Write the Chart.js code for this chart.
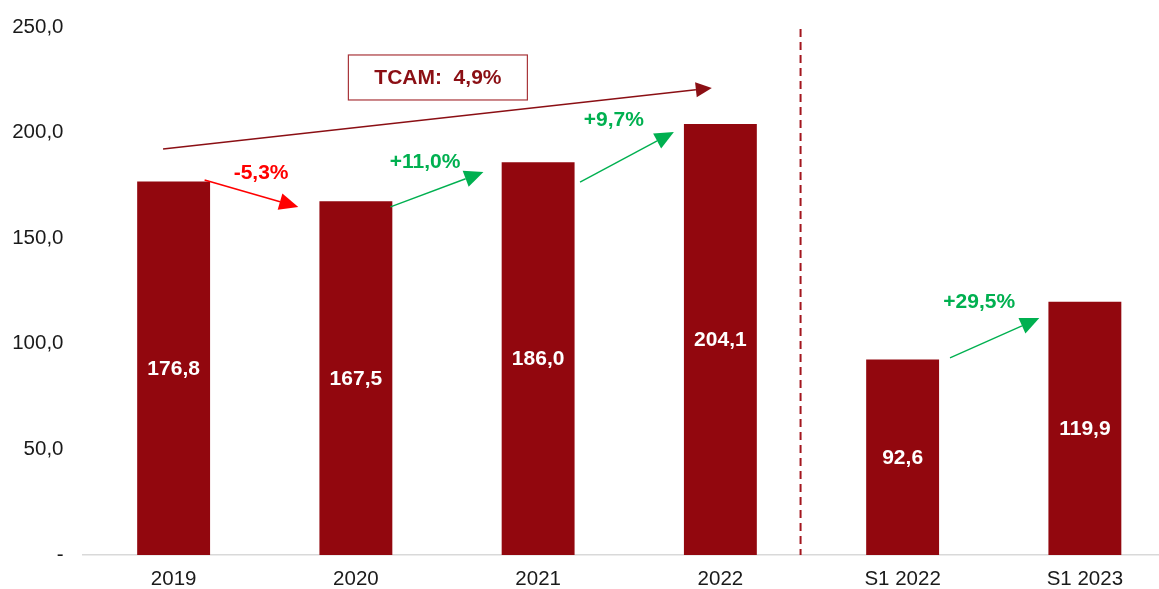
<!DOCTYPE html>
<html>
<head>
<meta charset="utf-8">
<style>
  html, body { margin: 0; padding: 0; background: #fff; overflow: hidden; }
  #wrap { width: 1176px; height: 589px; }
</style>
</head>
<body>
<div id="wrap">
	<canvas id="myChart" width="1176" height="589"></canvas>
</div>

<script src="https://cdn.jsdelivr.net/npm/chart.js"></script>
<script>

	const labels = ['2019', '2020', '2021', '2022', 'S1 2022', 'S1 2023']
	const values = [176.8, 167.5, 186.0, 204.1, 92.6, 119.9]

	// growth arrows, in category index / value units: [x1, y1, x2, y2]
	const arrowLabels = ['-5,3%', '+11,0%', '+9,7%', '+29,5%']
	const arrowColors = ['#ff0000', '#00b050', '#00b050', '#00b050']
	const arrowFrom = [[0.17, 177.6], [1.19, 164.8], [2.23, 176.6], [4.26, 93.3]]
	const arrowTo = [[0.684, 164.8], [1.70, 181.3], [2.745, 200.3], [4.75, 112.2]]
	const arrowTextAt = [[0.48, 180.9], [1.38, 186.1], [2.415, 206.0], [4.42, 119.8]]

	const cagrLabel = 'TCAM:  4,9%'
	const cagrFrom = [-0.058, 192.2]
	const cagrTo = [2.953, 221.1]
	const cagrBoxAt = [1.45, 226.1]
	const separatorAt = 3.44

	const fmt = v => v.toFixed(1).replace('.', ',')
	const FONT = "'Liberation Sans', Arial, sans-serif"

	function arrow(ctx, x1, y1, x2, y2, color, lw, head, hw) {
		const a = Math.atan2(y2 - y1, x2 - x1)
		const bx = x2 - head * Math.cos(a), by = y2 - head * Math.sin(a)
		ctx.save()
		ctx.strokeStyle = color
		ctx.fillStyle = color
		ctx.lineWidth = lw
		ctx.beginPath()
		ctx.moveTo(x1, y1)
		ctx.lineTo(bx, by)
		ctx.stroke()
		ctx.beginPath()
		ctx.moveTo(x2, y2)
		ctx.lineTo(bx + hw * Math.sin(a), by - hw * Math.cos(a))
		ctx.lineTo(bx - hw * Math.sin(a), by + hw * Math.cos(a))
		ctx.closePath()
		ctx.fill()
		ctx.restore()
	}

	const annotations = {
		id: 'annotations',
		afterDatasetsDraw(chart) {
			const ctx = chart.ctx
			const xs = chart.scales.x, ys = chart.scales.y
			const px = v => xs.getPixelForValue(v)
			const py = v => ys.getPixelForValue(v)

			// values inside bars
			const meta = chart.getDatasetMeta(0)
			ctx.save()
			ctx.fillStyle = '#ffffff'
			ctx.font = 'bold 21px ' + FONT
			ctx.textAlign = 'center'
			ctx.textBaseline = 'middle'
			meta.data.forEach((bar, i) => {
				ctx.fillText(fmt(values[i]), bar.x, (bar.y + bar.base) / 2 + 1)
			})
			ctx.restore()

			// separator
			ctx.save()
			ctx.strokeStyle = '#a3161e'
			ctx.lineWidth = 2
			ctx.setLineDash([8, 5])
			ctx.beginPath()
			ctx.moveTo(px(separatorAt), py(249))
			ctx.lineTo(px(separatorAt), py(0))
			ctx.stroke()
			ctx.restore()

			// growth arrows
			arrowLabels.forEach((t, i) => {
				arrow(ctx, px(arrowFrom[i][0]), py(arrowFrom[i][1]), px(arrowTo[i][0]), py(arrowTo[i][1]),
					arrowColors[i], i === 0 ? 1.6 : 1.4, 19, 8.5)
				ctx.save()
				ctx.fillStyle = arrowColors[i]
				ctx.font = 'bold 21px ' + FONT
				ctx.textAlign = 'center'
				ctx.textBaseline = 'middle'
				ctx.fillText(t, px(arrowTextAt[i][0]), py(arrowTextAt[i][1]))
				ctx.restore()
			})

			// CAGR
			arrow(ctx, px(cagrFrom[0]), py(cagrFrom[1]), px(cagrTo[0]), py(cagrTo[1]), '#8b0f14', 1.5, 16, 7.5)
			const bx = px(cagrBoxAt[0]), by = py(cagrBoxAt[1])
			ctx.save()
			ctx.fillStyle = '#ffffff'
			ctx.fillRect(bx - 89.5, by - 22.5, 179, 45)
			ctx.strokeStyle = '#a8353a'
			ctx.lineWidth = 1.2
			ctx.strokeRect(bx - 89.5, by - 22.5, 179, 45)
			ctx.fillStyle = '#8b0f14'
			ctx.font = 'bold 21px ' + FONT
			ctx.textAlign = 'center'
			ctx.textBaseline = 'middle'
			ctx.fillText(cagrLabel, bx, by + 1)
			ctx.restore()
		}
	}

	const chart = new Chart(
		document.getElementById('myChart'),
		{
			type: 'bar',
			data: {
				labels: labels,
				datasets: [{
					data: values,
					backgroundColor: '#92070e',
					barPercentage: 0.4,
					categoryPercentage: 1.0,
				}]
			},
			options: {
				responsive: false,
				animation: false,
				layout: { padding: { top: 27, left: 0, right: 0, bottom: 0 } },
				plugins: {
					legend: { display: false },
					tooltip: { enabled: false },
				},
				scales: {
					x: {
						grid: { display: false, drawTicks: false },
						border: { display: true, color: '#d9d9d9', width: 1.5 },
						ticks: { color: '#1a1a1a', font: { family: FONT, size: 20.5 }, padding: 12 },
						afterFit: s => { s.height = 34 },
					},
					y: {
						min: 0,
						max: 250,
						grid: { display: false, drawTicks: false },
						border: { display: false },
						ticks: {
							stepSize: 50,
							color: '#1a1a1a',
							font: { family: FONT, size: 20.5 },
							padding: 19,
							callback: v => v === 0 ? '-' : fmt(v),
						},
						afterFit: s => { s.width = 82.5; s.paddingTop = 0; s.paddingBottom = 0 },
					}
				}
			},
			plugins: [annotations]
		}
	)
</script>
</body>
</html>
